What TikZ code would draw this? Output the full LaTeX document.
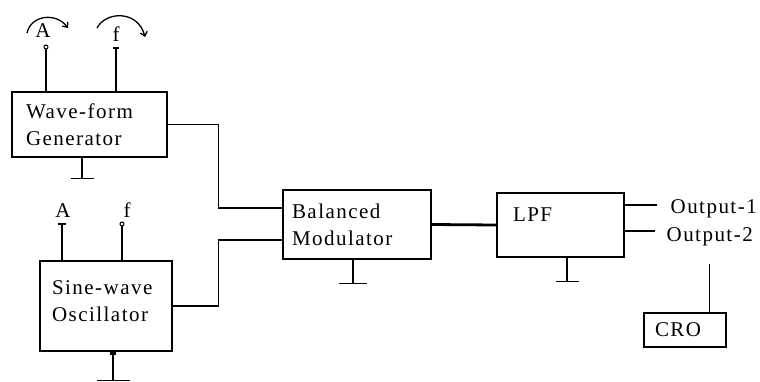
\documentclass[tikz,border=0pt]{standalone}
\usepackage{fontspec}
\setmainfont{Liberation Serif}[LetterSpace=7]
\usetikzlibrary{arrows.meta, positioning}
% ground symbol: start point, stem length, half bar width
\newcommand{\earth}[3]{%
  \draw (#1) -- ++(0,#2) coordinate (gndtmp);
  \draw ([xshift=-#3pt]gndtmp) -- ([xshift=#3pt]gndtmp);}

\begin{document}
\begin{tikzpicture}[x=1pt, y=-1pt, line width=1.3pt,
    every node/.style={font=\fontsize{21}{27}\selectfont},
    blk/.style={draw, line width=1.4pt, align=left, inner ysep=0pt},
    knob/.style={-{Straight Barb[length=4pt, width=7pt]}, line width=1.3pt}]
    \useasboundingbox (0,0) rectangle (760,381);
    % blocks
    \node[blk, minimum width=155pt, minimum height=65pt, text width=127pt, inner xsep=14pt]
      (wfg) at (89.5,124.5) {Wave-form\\Generator};
    \node[blk, minimum width=132pt, minimum height=90pt, text width=108pt, inner xsep=12pt, text depth=36pt]
      (sine) at (106,306) {Sine-wave\\Oscillator};
    \node[blk, minimum width=148pt, minimum height=69pt, text width=130pt, inner xsep=9pt]
      (bm) at (357,224.5) {Balanced\\Modulator};
    \node[blk, minimum width=127pt, minimum height=64pt, text width=95pt, inner xsep=16pt, text depth=20pt]
      (lpf) at (560.5,225) {LPF};
    \node[blk, minimum width=82pt, minimum height=34pt, text width=60pt, inner xsep=11pt]
      (cro) at (685,330) {CRO};
    \node[anchor=base west, inner xsep=13pt, inner ysep=6pt] (out1) at (657,213) {Output-1};
    \node[anchor=base west, inner xsep=11pt, inner ysep=6pt] (out2) at (655,241) {Output-2};
    % control labels
    \node (aw) at (43,31) {A};
    \node (fw) at (116,34) {f};
    \node (as) at (63,211) {A};
    \node (fs) at (127,210) {f};
    \draw[knob] (27,33) .. controls (31,15) and (56,12) .. (68,28);
    \draw[knob] (97,28) .. controls (106,11) and (138,10) .. (145,37);
    % control terminals
    \coordinate (pa1) at (46,47);
    \coordinate (pf1) at (116,48);
    \coordinate (pa2) at (62,224);
    \coordinate (pf2) at (122,224);
    \draw (pa1) -- (pa1 |- wfg.north);
    \draw (pf1) -- (pf1 |- wfg.north);
    \draw (pa2) -- (pa2 |- sine.north);
    \draw (pf2) -- (pf2 |- sine.north);
    \draw[fill=white, line width=1pt] (pa1) circle (2pt);
    \draw ([xshift=-3pt]pf1) -- ([xshift=3pt]pf1);
    \draw ([xshift=-4pt]pa2) -- ([xshift=4pt]pa2);
    \draw[fill=white, line width=1pt] (pf2) circle (2pt);
    % signal paths
    \draw (wfg.east) -- ++(51,0) |- ([yshift=16.5pt]bm.west);
    \draw (sine.east) -- ++(46,0) |- ([yshift=-15.5pt]bm.west);
    \draw[line width=2.8pt] (bm.east) -- (lpf.west);
    \fill (bm.east) circle (1.6pt);
    \draw (lpf.east |- 0,205) -- (out1.west |- 0,205);
    \draw (lpf.east |- 0,231) -- (out2.west |- 0,231);
    \draw ([yshift=-12pt]out2.south) -- (out2.south |- cro.north);
    % grounds
    \earth{[xshift=-7.5pt]wfg.south}{21}{11.5}
    \earth{[xshift=-4pt]bm.south}{24}{14}
    \earth{[xshift=6.5pt]lpf.south}{24}{11.5}
    \earth{[xshift=7pt]sine.south}{29}{16.5}
    \fill ([xshift=7pt]sine.south) ++(-3,-1) rectangle ++(6,4);
\end{tikzpicture}
\end{document}
